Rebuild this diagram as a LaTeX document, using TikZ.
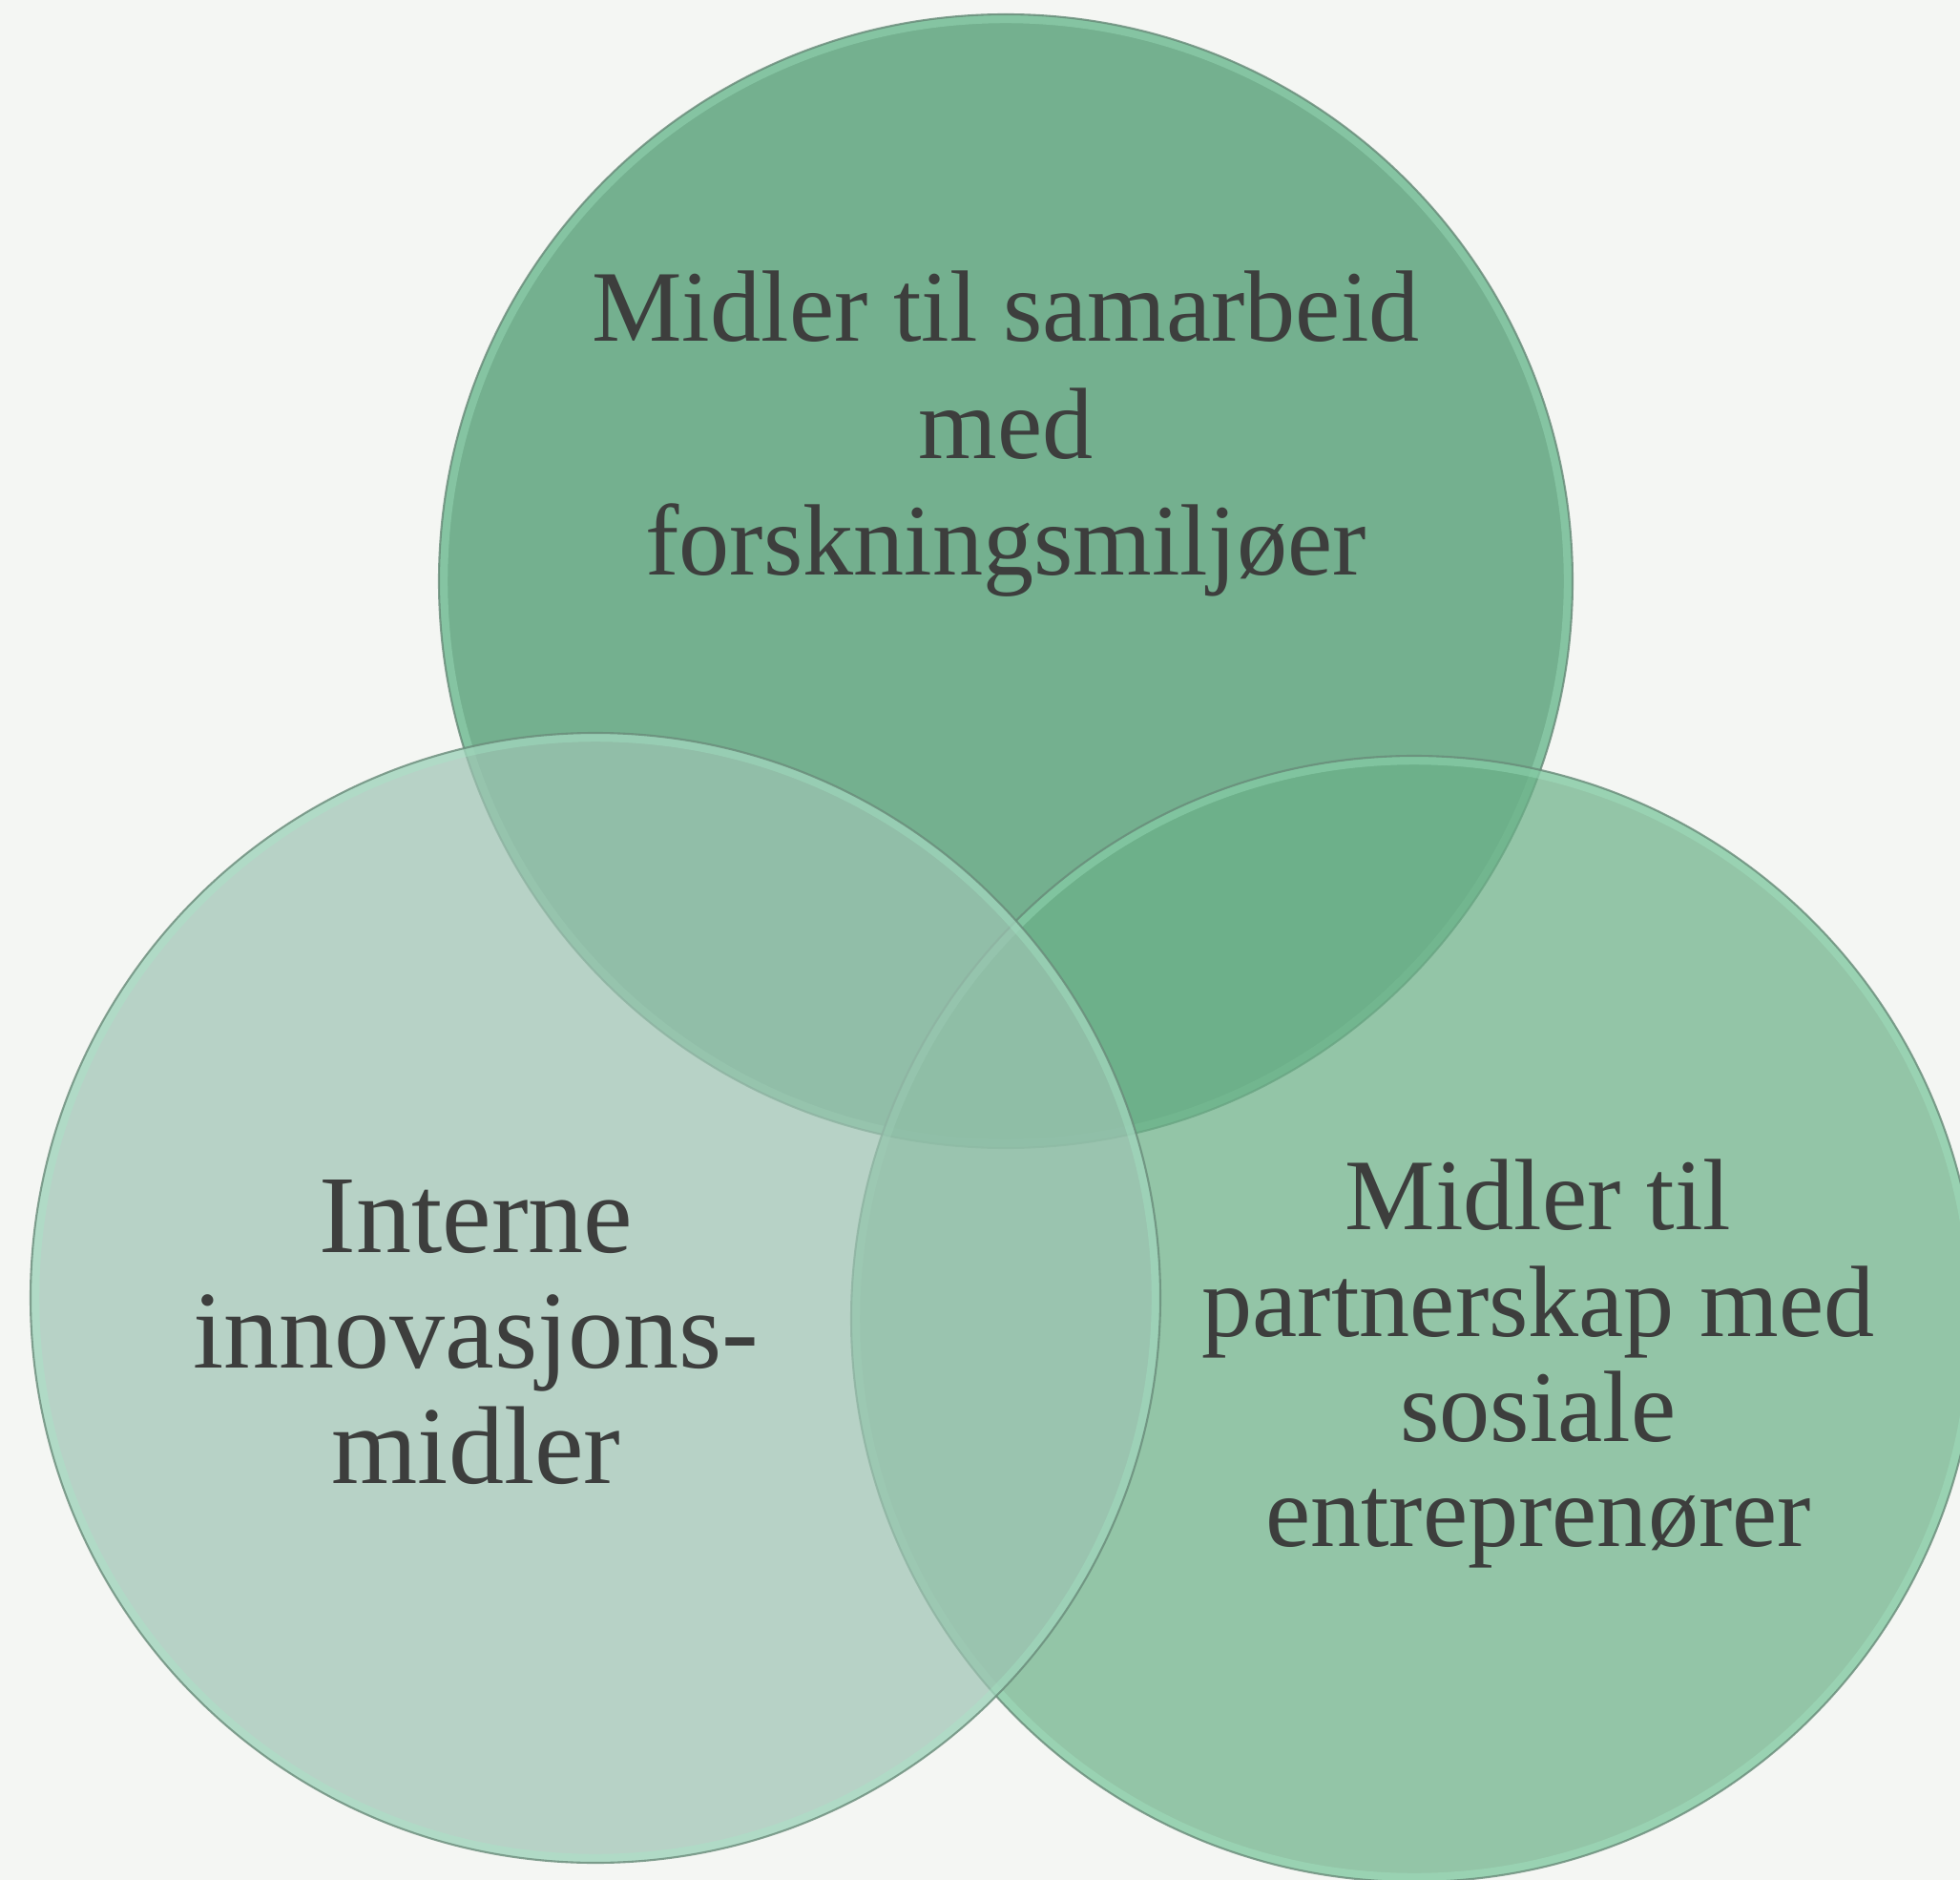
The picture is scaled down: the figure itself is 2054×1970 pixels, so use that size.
\documentclass[tikz,border=0pt]{standalone}
\usepackage{fontspec}
\setmainfont{Liberation Serif}
\definecolor{bgc}{RGB}{244,246,243}
\definecolor{topc}{RGB}{116,176,143}
\definecolor{rightc}{RGB}{107,177,136}
\definecolor{leftc}{RGB}{158,196,179}
\definecolor{txt}{RGB}{61,62,61}
\definecolor{rimdark}{RGB}{105,140,122}
\definecolor{rimlight}{RGB}{165,235,200}
\begin{document}
\begin{tikzpicture}[x=0.01cm,y=-0.01cm,
  lbl/.style={text=txt, inner sep=0pt, anchor=base},
  lblA/.style={lbl, font=\fontsize{30.2}{34}\selectfont},
  lblB/.style={lbl, font=\fontsize{33}{36}\selectfont},
  rimout/.style={draw=rimdark, line width=0.6pt, draw opacity=0.8},
  rimin/.style={draw=rimlight, line width=2.4pt, draw opacity=0.35}]
\useasboundingbox (0,0) rectangle (2054,1970);
\fill[bgc] (0,0) rectangle (2054,1970);
\clip (0,0) rectangle (2054,1970);
% centres
\coordinate (ct) at (1054,609);
\coordinate (cr) at (1482,1382);
\coordinate (cl) at (624,1360);
% top circle
\fill[topc] (ct) circle[radius=594];
\draw[rimin] (ct) circle[radius=589];
\draw[rimout] (ct) circle[radius=594];
% right circle
\fill[rightc, fill opacity=0.7] (cr) circle[radius=590];
\draw[rimin] (cr) circle[radius=585];
\draw[rimout] (cr) circle[radius=590];
% left circle
\fill[leftc, fill opacity=0.7] (cl) circle[radius=592];
\draw[rimin] (cl) circle[radius=587];
\draw[rimout] (cl) circle[radius=592];
% texts
\node[lblA] (t1) at (1054,358) {Midler til samarbeid};
\node[lblA] (t2) at (1054,481) {med};
\node[lblA] (t3) at (1054,603) {forskningsmiljøer};
\node[lblB] (l1) at (499,1312) {Interne};
\node[lblB] (l2) at (499,1433) {innovasjons-};
\node[lblB] (l3) at (499,1554) {midler};
\node[lblA] (r1) at (1612,1288) {Midler til};
\node[lblA] (r2) at (1612,1400) {partnerskap med};
\node[lblA] (r3) at (1612,1510) {sosiale};
\node[lblA] (r4) at (1612,1620) {entreprenører};
\end{tikzpicture}
\end{document}
